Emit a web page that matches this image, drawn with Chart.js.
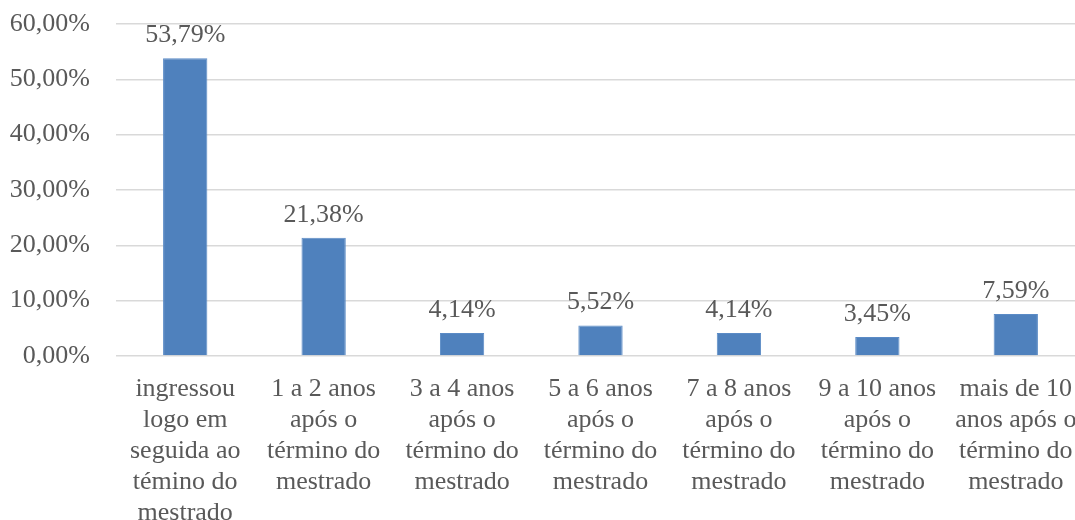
<!DOCTYPE html>
<html>
<head>
<meta charset="utf-8">
<script src="https://cdn.jsdelivr.net/npm/chart.js@4/dist/chart.umd.min.js"></script>
<style>
  html, body { margin: 0; padding: 0; background: #fff; overflow: hidden; }
  #wrap { width: 1093px; height: 520px; }
</style>
</head>
<body>
<div id="wrap"><canvas id="chart" width="1093" height="520"></canvas></div>
<script>
// categories (multi-line labels) and shares in percent
const categories = [
  ["ingressou", "logo em", "seguida ao", "témino do", "mestrado"],
  ["1 a 2 anos", "após o", "término do", "mestrado"],
  ["3 a 4 anos", "após o", "término do", "mestrado"],
  ["5 a 6 anos", "após o", "término do", "mestrado"],
  ["7 a 8 anos", "após o", "término do", "mestrado"],
  ["9 a 10 anos", "após o", "término do", "mestrado"],
  ["mais de 10", "anos após o", "término do", "mestrado"]
];
const shares = [53.79, 21.38, 4.14, 5.52, 4.14, 3.45, 7.59];
const yTicks = [0, 10, 20, 30, 40, 50, 60];

const FONT = "'Liberation Serif', 'Times New Roman', serif";
const TEXT = "#595959";

const fmtPct = v => v.toFixed(2).replace(".", ",") + "%";

// value labels above each bar
const barLabels = {
  id: "barLabels",
  afterDatasetsDraw(chart) {
    const ctx = chart.ctx;
    const meta = chart.getDatasetMeta(0);
    ctx.save();
    ctx.font = "26px " + FONT;
    ctx.fillStyle = TEXT;
    ctx.textAlign = "center";
    ctx.textBaseline = "alphabetic";
    meta.data.forEach((bar, i) => {
      ctx.fillText(fmtPct(shares[i]), bar.x, bar.y - 16);
    });
    ctx.restore();
  }
};

new Chart(document.getElementById("chart").getContext("2d"), {
  type: "bar",
  data: {
    labels: categories,
    datasets: [{
      data: shares,
      backgroundColor: "#4F81BD",
      borderColor: "#5B8BC6",
      borderWidth: 1,
      categoryPercentage: 1,
      barPercentage: 0.32
    }]
  },
  options: {
    responsive: false,
    animation: false,
    devicePixelRatio: 1,
    layout: { padding: { top: 24, right: 8, left: 0, bottom: 0 } },
    plugins: {
      legend: { display: false },
      tooltip: { enabled: false }
    },
    scales: {
      x: {
        grid: { display: false },
        border: { display: false },
        ticks: {
          color: TEXT,
          font: { family: FONT, size: 26, lineHeight: "31px" },
          maxRotation: 0,
          minRotation: 0,
          autoSkip: false,
          padding: 10
        },
        afterFit(axis) { axis.height = 164; }
      },
      y: {
        min: 0,
        max: 60,
        afterBuildTicks(axis) { axis.ticks = yTicks.map(v => ({ value: v })); },
        grid: { color: "#D9D9D9", lineWidth: 1.5, drawTicks: false },
        border: { display: false },
        ticks: {
          color: TEXT,
          font: { family: FONT, size: 26 },
          padding: 26,
          callback: v => fmtPct(v)
        },
        afterFit(axis) {
          axis.width = 116;
          // keep the plot top fixed by the layout padding alone
          axis.paddingTop = 0;
          axis.paddingBottom = 0;
        }
      }
    }
  },
  plugins: [barLabels]
});
</script>
</body>
</html>
